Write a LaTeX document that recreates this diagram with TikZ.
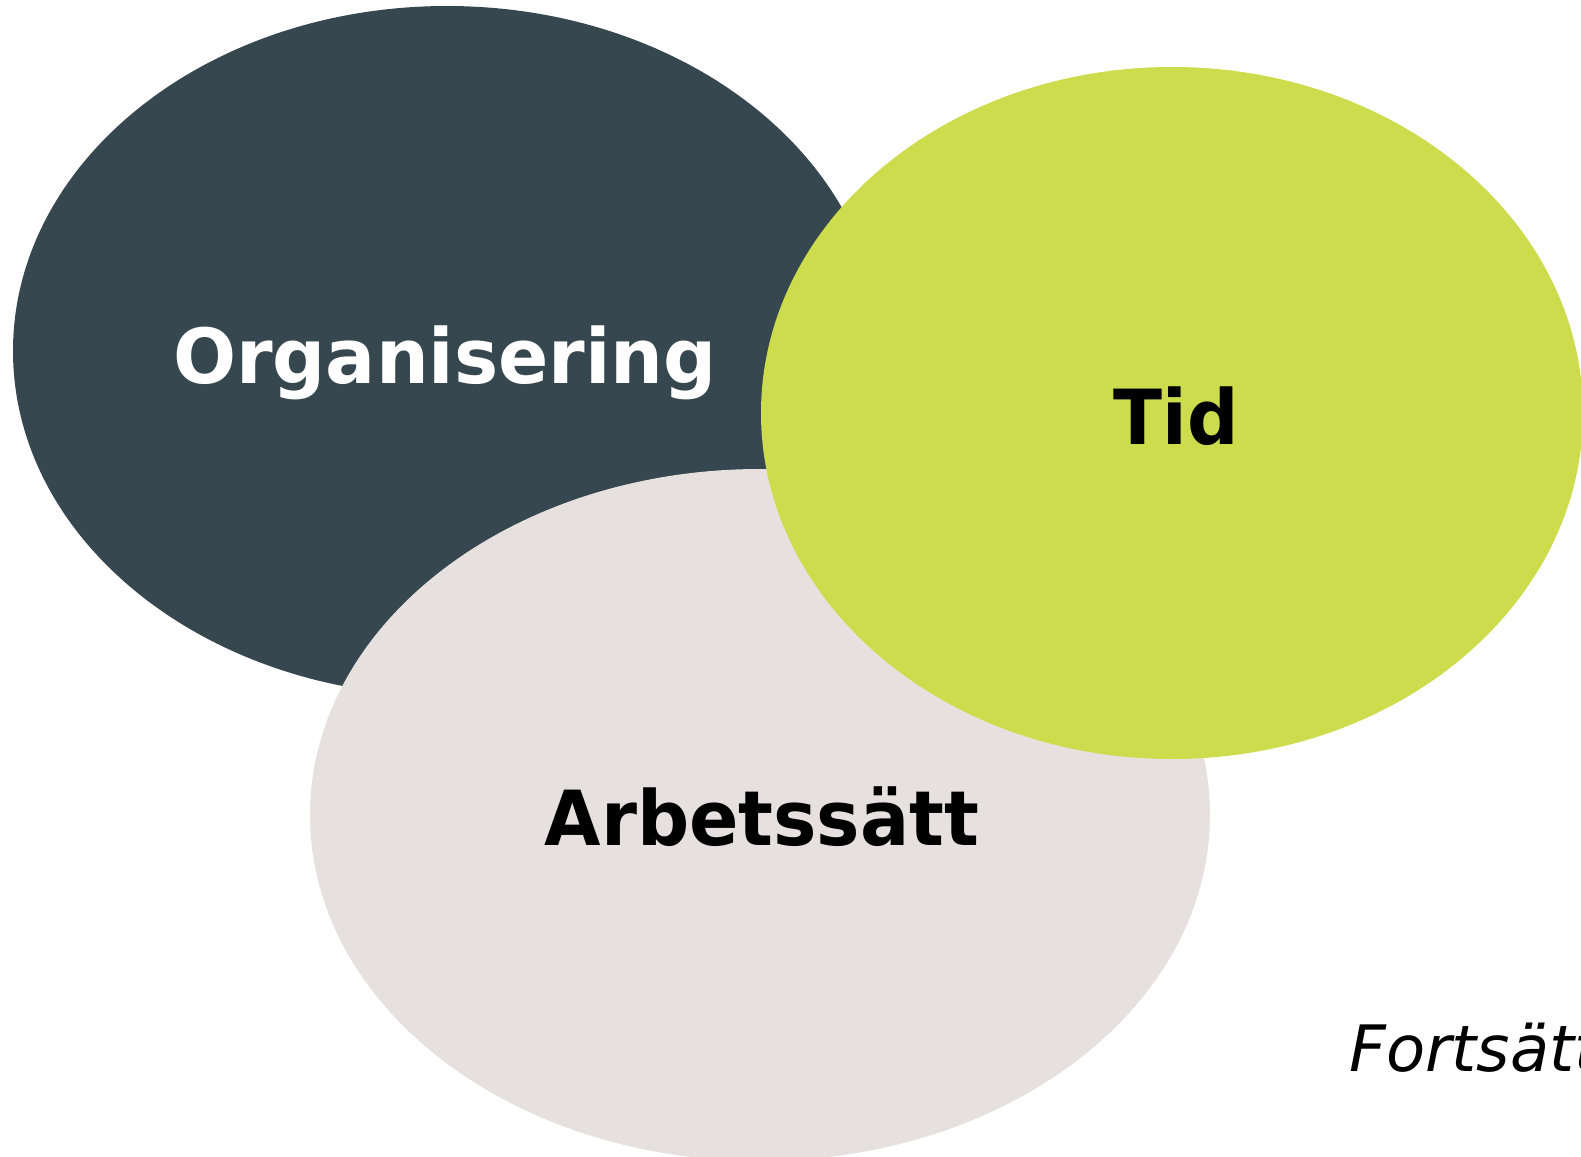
\documentclass[tikz,border=0pt]{standalone}
\usepackage{fontspec}
\setmainfont{DejaVu Sans}
\usetikzlibrary{shapes.geometric}
\definecolor{darkslate}{RGB}{55,71,79}
\definecolor{limegreen}{RGB}{205,220,76}
\definecolor{lightstone}{RGB}{230,225,222}
\tikzset{
  blob/.style={ellipse, inner sep=0pt, outer sep=0pt},
  biglabel/.style={anchor=base, inner sep=0pt, font=\fontsize{38pt}{40pt}\selectfont\bfseries},
}
\begin{document}
\begin{tikzpicture}[x=0.5pt,y=-0.5pt]
\useasboundingbox (0,0) rectangle (1581,1157);
\node[blob, fill=darkslate, minimum width=868pt*0.5, minimum height=690pt*0.5] (org) at (447,351) {};
\node[blob, fill=lightstone, minimum width=900pt*0.5, minimum height=692pt*0.5] (arb) at (760,815) {};
\node[blob, fill=limegreen, minimum width=822pt*0.5, minimum height=692pt*0.5] (tid) at (1172,413) {};
\node[biglabel, text=white] (orgl) at (445,383) {\scalebox{0.977}[1]{Organisering}};
\node[biglabel, text=black] (tidl) at (1176,444) {\scalebox{0.945}[1]{Tid}};
\node[biglabel, text=black] (arbl) at (762,845) {\scalebox{0.96}[1]{Arbetssätt}};
\node[anchor=base west, inner sep=0pt, font=\fontsize{32pt}{34pt}\selectfont\itshape] (fort) at (1349,1071) {Fortsätt};
\end{tikzpicture}
\end{document}
